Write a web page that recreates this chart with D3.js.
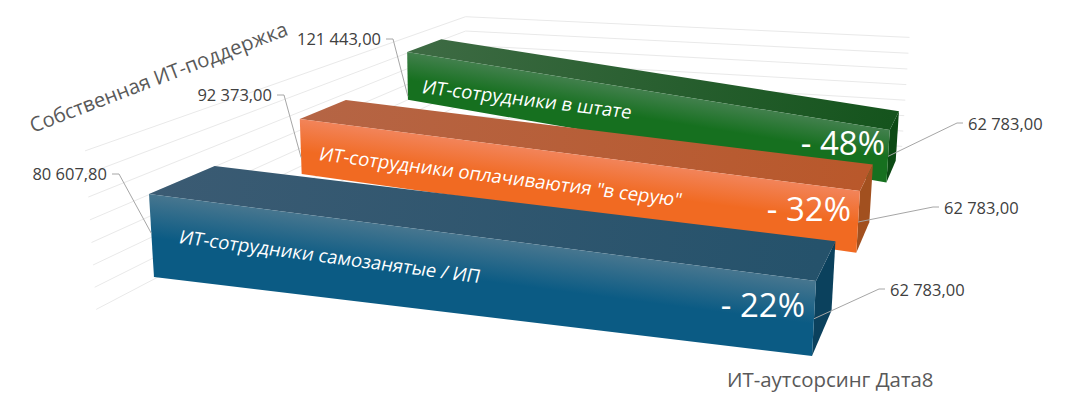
<!DOCTYPE html>
<html>
<head>
<meta charset="utf-8">
<script src="https://cdn.jsdelivr.net/npm/d3@7"></script>
<style>
    html, body { margin: 0; padding: 0; background: #fff; }
    svg { display: block; }
    text { font-family: 'Open Sans', 'Noto Sans', sans-serif; }
</style>
</head>
<body>
<div class="graph"></div>
<script>
// data, front ribbon first
var categories = ['Собственная ИТ-поддержка', 'ИТ-аутсорсинг Дата8'];
var seriesNames = ['ИТ-сотрудники самозанятые / ИП', 'ИТ-сотрудники оплачиваютия "в серую"', 'ИТ-сотрудники в штате'];
var leftValues = [80607.8, 92373, 121443];
var rightValues = [62783, 62783, 62783];
var percentLabels = ['- 22%', '- 32%', '- 48%'];
var gridTicks = [0, 20000, 40000, 60000, 80000, 100000, 120000, 140000];

// ribbon styling
var frontLight = ['#47768f', '#f2845a', '#42804d'];
var frontDark = ['#0b5b84', '#f16a22', '#16701f'];
var topLeft = ['#3b5b73', '#b56545', '#3e6b44'];
var topRight = ['#25526b', '#b9582b', '#15541d'];
var sideColor = ['#0b415d', '#a2501f', '#0c4a14'];
var thickLeft = [78600, 61500, 61500];
var thickRight = [61500, 61500, 61500];
var leftDrop = [37000, 43000, 57000];

// text layout
var leftLabelPos = [[107, 180], [272, 101], [381, 45]];
var rightLabelPos = [[890, 296], [944, 214], [968, 130]];
var namePos = [[178, 243, 7.6], [318, 160, 7.3], [421, 93, 7]];
var percentPos = [[805, 317], [851, 221], [885, 155]];

var width = 1072;
var height = 402;

var svg = d3
    .select('.graph')
    .append('svg')
    .attr('width', width)
    .attr('height', height);

var defs = svg.append('defs');

// chart space scales
var xScale = d3.scalePoint().domain(categories).range([-1, 0]);
var yScale = d3.scaleLinear().domain([0, 140000]).range([-62.783, 77.217]);
var zScale = d3
    .scaleBand()
    .domain(seriesNames)
    .range([-0.305, 2.695])
    .paddingInner(0.61)
    .paddingOuter(0.305);

// perspective camera, fitted against the corners of the walls
function project(x, y, z) {
    var w = 1 + 0.2377 * z - 0.175 * x - 0.000212 * y;
    return [
        (816 + 639.6 * x - 0.107 * y + 248.4 * z) / w,
        (281 + 30.7 * x - 1.2955 * y - 44.6 * z) / w
    ];
}

function point(catIndex, value, z) {
    return project(xScale(categories[catIndex]), yScale(value), z);
}

var line = d3.line();

// walls
var zBack = zScale.range()[1];
var zFront = zScale.range()[0];

gridTicks.forEach(function (t) {
    svg.append('path')
        .attr('d', line([point(0, t, zFront), point(0, t, zBack), point(1, t, zBack)]))
        .attr('fill', 'none')
        .attr('stroke', '#e9e9e9')
        .attr('stroke-width', 1);
});

// ribbons, back to front
d3.range(seriesNames.length - 1, -1, -1).forEach(function (i) {
    var z0 = zScale(seriesNames[i]);
    var z1 = z0 + zScale.bandwidth();
    var vL = leftValues[i];
    var vR = rightValues[i];

    var a = point(0, vL, z0);
    var b = point(1, vR, z0);
    var c = point(1, vR - thickRight[i], z0);
    var d = point(0, vL - thickLeft[i], z0);
    var e = point(0, vL, z1);
    var f = point(1, vR, z1);
    var g = point(1, vR - thickRight[i], z1);

    // gradient runs square to the top edge of the ribbon
    var topMid = [(a[0] + b[0]) / 2, (a[1] + b[1]) / 2];
    var botMid = [(c[0] + d[0]) / 2, (c[1] + d[1]) / 2];
    var dx = b[0] - a[0];
    var dy = b[1] - a[1];
    var len = Math.sqrt(dx * dx + dy * dy);
    var nx = -dy / len;
    var ny = dx / len;
    var dist = (botMid[0] - topMid[0]) * nx + (botMid[1] - topMid[1]) * ny;

    var frontGrad = defs.append('linearGradient')
        .attr('id', 'front' + i)
        .attr('gradientUnits', 'userSpaceOnUse')
        .attr('x1', topMid[0])
        .attr('y1', topMid[1])
        .attr('x2', topMid[0] + nx * dist)
        .attr('y2', topMid[1] + ny * dist);
    frontGrad.append('stop').attr('offset', 0).attr('stop-color', frontLight[i]);
    frontGrad.append('stop').attr('offset', 0.55).attr('stop-color', frontDark[i]);
    frontGrad.append('stop').attr('offset', 1).attr('stop-color', frontDark[i]);

    var topGrad = defs.append('linearGradient')
        .attr('id', 'top' + i)
        .attr('gradientUnits', 'userSpaceOnUse')
        .attr('x1', a[0])
        .attr('y1', a[1])
        .attr('x2', b[0])
        .attr('y2', b[1]);
    topGrad.append('stop').attr('offset', 0).attr('stop-color', topLeft[i]);
    topGrad.append('stop').attr('offset', 1).attr('stop-color', topRight[i]);

    svg.append('path')
        .attr('d', line([b, f, g, c]) + 'Z')
        .attr('fill', sideColor[i]);
    svg.append('path')
        .attr('d', line([a, e, f, b]) + 'Z')
        .attr('fill', 'url(#top' + i + ')');
    svg.append('path')
        .attr('d', line([a, b, c, d]) + 'Z')
        .attr('fill', 'url(#front' + i + ')');

    // series name on the front face
    var np = namePos[i];
    svg.append('text')
        .attr('transform', 'translate(' + np[0] + ',' + np[1] + ') rotate(' + np[2] + ') skewX(-7)')
        .attr('font-size', 18.6)
        .attr('fill', '#fff')
        .text(seriesNames[i]);

    svg.append('text')
        .attr('x', percentPos[i][0])
        .attr('y', percentPos[i][1])
        .attr('text-anchor', 'end')
        .attr('font-size', 33)
        .attr('fill', '#fff')
        .text(percentLabels[i]);
});

// value labels with leader lines
var ruFormat = d3.formatLocale({ decimal: ',', thousands: ' ', grouping: [3], currency: ['', ''] }).format(',.2f');
var labelColor = '#404040';
var leaderColor = '#a6a6a6';

seriesNames.forEach(function (name, i) {
    var z0 = zScale(name);
    var lp = leftLabelPos[i];
    var rp = rightLabelPos[i];

    svg.append('path')
        .attr('d', line([
            [lp[0] + 5, lp[1] - 6],
            [lp[0] + 12, lp[1] - 6],
            point(0, leftValues[i] - leftDrop[i], z0)
        ]))
        .attr('fill', 'none')
        .attr('stroke', leaderColor);
    svg.append('text')
        .attr('x', lp[0])
        .attr('y', lp[1])
        .attr('text-anchor', 'end')
        .attr('font-size', 16.5)
        .attr('fill', labelColor)
        .text(ruFormat(leftValues[i]));

    svg.append('path')
        .attr('d', line([
            [rp[0] - 5, rp[1] - 7],
            [rp[0] - 11, rp[1] - 7],
            point(1, rightValues[i] - thickRight[i] / 2, z0)
        ]))
        .attr('fill', 'none')
        .attr('stroke', leaderColor);
    svg.append('text')
        .attr('x', rp[0])
        .attr('y', rp[1])
        .attr('font-size', 16.5)
        .attr('fill', labelColor)
        .text(ruFormat(rightValues[i]));
});

// category labels
svg.append('text')
    .attr('transform', 'translate(33,133) rotate(-21)')
    .attr('font-size', 20.3)
    .attr('fill', '#595959')
    .text(categories[0]);

svg.append('text')
    .attr('x', 727)
    .attr('y', 387)
    .attr('font-size', 20.4)
    .attr('fill', '#595959')
    .text(categories[1]);
</script>
</body>
</html>
